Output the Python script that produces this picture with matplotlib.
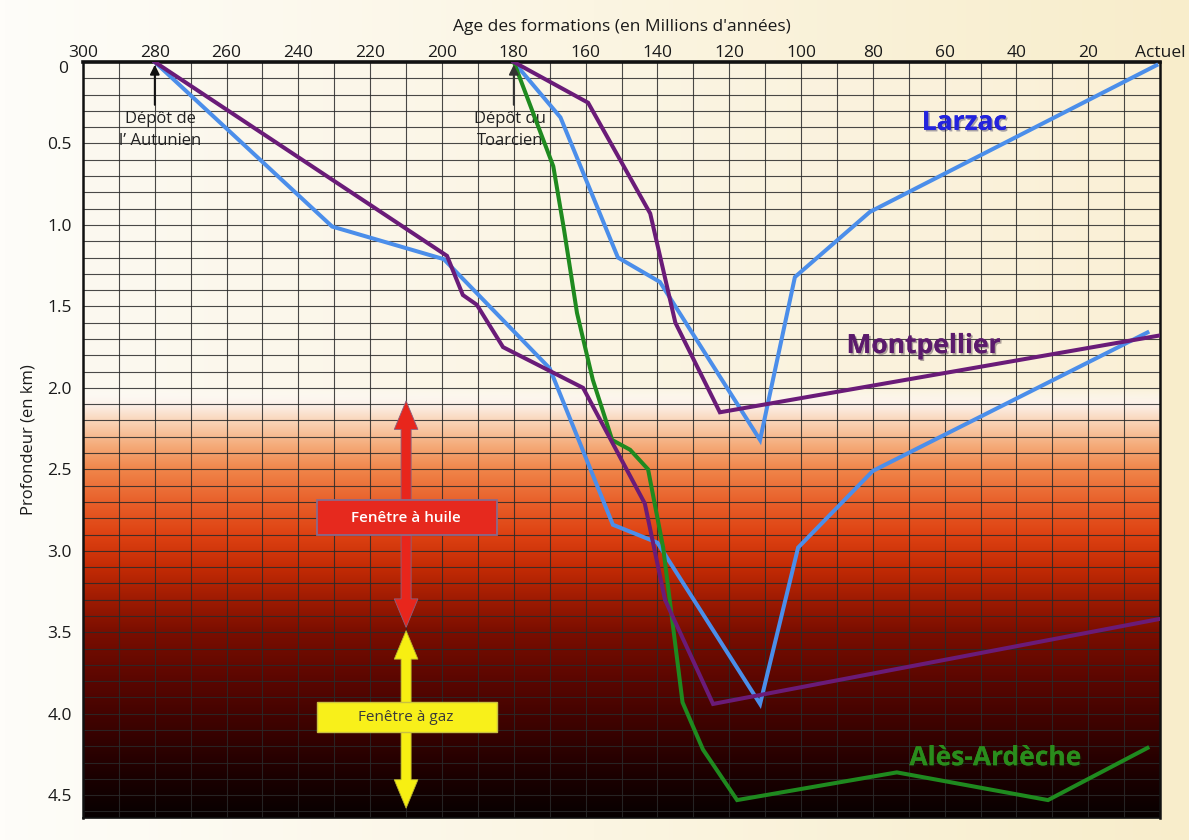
import numpy as np
import matplotlib
matplotlib.use("Agg")
import matplotlib.pyplot as plt
from matplotlib.colors import to_rgb
from matplotlib.patches import FancyArrow, Rectangle
from matplotlib.transforms import ScaledTranslation
import matplotlib.patheffects as pe

plt.rcParams['font.family'] = ['Open Sans', 'DejaVu Sans']

# ---- Burial curves: age (Ma) vs depth (km) ----
larzac_autunien_age = [280, 230.6, 199.5, 170, 152.4, 140, 111.4, 100.8, 80, 3.5]
larzac_autunien_depth = [0, 1.01, 1.21, 1.88, 2.84, 2.95, 3.94, 2.98, 2.51, 1.66]

larzac_toarcien_age = [180, 167, 151, 139.3, 111.4, 101.7, 80.8, 1]
larzac_toarcien_depth = [0, 0.34, 1.20, 1.35, 2.32, 1.32, 0.92, 0.02]

montpellier_autunien_age = [280, 198.6, 194.2, 190.3, 183, 160.7, 143.5, 137.9, 124.5, 0.5]
montpellier_autunien_depth = [0, 1.19, 1.43, 1.49, 1.75, 2.00, 2.71, 3.30, 3.94, 3.42]

montpellier_toarcien_age = [180, 159.3, 142, 135, 122.6, 0.5]
montpellier_toarcien_depth = [0, 0.25, 0.93, 1.60, 2.15, 1.68]

ales_age = [180, 169, 166, 162.4, 158, 152.6, 147.6, 142.6, 138.4, 133, 127.3, 117.8, 73.3, 31.2, 3.5]
ales_depth = [0, 0.64, 1.03, 1.54, 1.95, 2.32, 2.38, 2.50, 2.98, 3.93, 4.22, 4.53, 4.36, 4.53, 4.21]

# ---- Axis ticks ----
age_ticks = list(range(0, 301, 20))
age_tick_labels = ['Actuel' if a == 0 else str(a) for a in age_ticks]
depth_ticks = [0, 0.5, 1.0, 1.5, 2.0, 2.5, 3.0, 3.5, 4.0, 4.5]
depth_tick_labels = ['0', '0.5', '1.0', '1.5', '2.0', '2.5', '3.0', '3.5', '4.0', '4.5']

AGE_MAX, AGE_MIN = 300, 0
DEPTH_MAX = 4.64

# ---- Thermal maturity windows (depth ranges, km) ----
oil_window = (2.08, 3.47)
gas_window = (3.49, 4.58)
window_age = 210

BLUE = '#4B8EEA'
PURPLE = '#6A1B78'
GREEN = '#1F8A1F'

fig = plt.figure(figsize=(11.89, 8.40), dpi=100)

# paper-like background
bg = fig.add_axes([0, 0, 1, 1], zorder=-10)
t = np.linspace(0, 1, 256)
c0 = np.array(to_rgb('#FEFDF9'))
c1 = np.array(to_rgb('#F8EDCB'))
paper = c0[None, None, :] * (1 - t[None, :, None]) + c1[None, None, :] * t[None, :, None]
bg.imshow(paper, aspect='auto', extent=[0, 1, 0, 1])
bg.axis('off')

ax = fig.add_axes([83 / 1189, 1 - 818 / 840, (1160 - 83) / 1189, (818 - 62) / 840])

# temperature gradient with depth
depths = np.linspace(0, DEPTH_MAX, 700)
ages = np.linspace(AGE_MAX, AGE_MIN, 400)
stop_d = [2.0, 2.1, 2.2, 2.35, 2.5, 2.7, 2.9, 3.1, 3.3, 3.5, 3.8, 4.1, 4.4, 4.64]
stop_c = ['#FFFFFF', '#FCF1EA', '#FAD6BA', '#F5AC7B', '#F0854A', '#E8602A', '#DE4212',
          '#C42B05', '#9E1B02', '#7A0E00', '#5A0600', '#3A0200', '#1A0000', '#070000']
stop_rgb = np.array([to_rgb(c) for c in stop_c])
ramp = np.stack([np.interp(depths, stop_d, stop_rgb[:, k]) for k in range(3)], axis=1)
cream_l = np.array(to_rgb('#FCF9F0'))
cream_r = np.array(to_rgb('#FAF0D6'))
tt = (AGE_MAX - ages) / AGE_MAX
cream = cream_l[None, :] * (1 - tt[:, None]) + cream_r[None, :] * tt[:, None]
w = np.clip((2.1 - depths) / 0.1, 0, 1)
img = (w[:, None, None] * cream[None, :, :]
       + (1 - w[:, None, None]) * ramp[:, None, :])
ax.imshow(img, aspect='auto', extent=(AGE_MAX, AGE_MIN, DEPTH_MAX, 0),
          origin='upper', zorder=0, interpolation='bilinear')

ax.set_xlim(AGE_MAX, AGE_MIN)
ax.set_ylim(DEPTH_MAX, 0)

# grid
ax.set_xticks(age_ticks)
ax.set_xticklabels(age_tick_labels)
ax.set_xticks(np.arange(0, 301, 10), minor=True)
ax.set_yticks(depth_ticks)
ax.set_yticklabels(depth_tick_labels)
ax.set_yticks(np.arange(0, 4.65, 0.1), minor=True)
ax.grid(True, which='both', color='#2a2a2a', lw=0.8, alpha=0.85, zorder=1)

ax.xaxis.tick_top()
ax.xaxis.set_label_position('top')
ax.tick_params(which='both', length=0, labelsize=12.5, colors='#1a1a1a')
ax.tick_params(axis='x', pad=1)
ax.tick_params(axis='y', pad=8)
ax.set_xlabel("Age des formations (en Millions d'années)", fontsize=12.5, labelpad=10, color='#1a1a1a')
ax.set_ylabel('Profondeur (en km)', fontsize=12, labelpad=8, color='#1a1a1a')

# the top-left "0" sits a little lower and to the left of "300"
zero_lbl = ax.get_yticklabels()[0]
zero_lbl.set_transform(zero_lbl.get_transform() + ScaledTranslation(-4 / 100, -5 / 100, fig.dpi_scale_trans))

ax.spines['top'].set_linewidth(2.6)
ax.spines['left'].set_linewidth(1.8)
ax.spines['right'].set_linewidth(1.8)
ax.spines['bottom'].set_linewidth(1.2)
for s in ax.spines.values():
    s.set_color('#111111')

# curves
lw = 2.9
ax.plot(larzac_autunien_age, larzac_autunien_depth, color=BLUE, lw=lw, zorder=3, solid_joinstyle='miter')
ax.plot(montpellier_autunien_age, montpellier_autunien_depth, color=PURPLE, lw=lw, zorder=3.2, solid_joinstyle='miter')
ax.plot(ales_age, ales_depth, color=GREEN, lw=lw, zorder=3.1, solid_joinstyle='miter')
ax.plot(larzac_toarcien_age, larzac_toarcien_depth, color=BLUE, lw=lw, zorder=3, solid_joinstyle='miter')
ax.plot(montpellier_toarcien_age, montpellier_toarcien_depth, color=PURPLE, lw=lw, zorder=3.2, solid_joinstyle='miter')

# series labels
shadow = [pe.withSimplePatchShadow(offset=(1.2, -1.2), alpha=0.35), pe.Normal()]
ax.text(54.5, 0.37, 'Larzac', color='#2323DD', fontsize=19, fontweight='bold',
        ha='center', va='center', zorder=5, path_effects=shadow)
ax.text(66, 1.74, 'Montpellier', color='#5B1A6C', fontsize=19, fontweight='bold',
        ha='center', va='center', zorder=5, path_effects=shadow)
ax.text(46, 4.27, 'Alès-Ardèche', color='#2A8C1C', fontsize=19, fontweight='bold',
        ha='center', va='center', zorder=5, path_effects=shadow)

# deposit markers
ax.annotate('', xy=(280, 0.0), xytext=(280, 0.28),
            arrowprops=dict(arrowstyle='-|>', color='#111111', lw=1.4, mutation_scale=14), zorder=6)
ax.text(278.5, 0.42, 'Dépôt de\nl’ Autunien', ha='center', va='center', fontsize=12,
        color='#222222', linespacing=1.5, zorder=6)
ax.annotate('', xy=(180, 0.0), xytext=(180, 0.28),
            arrowprops=dict(arrowstyle='-|>', color='#333333', lw=1.4, mutation_scale=14), zorder=6)
ax.text(181, 0.42, 'Dépôt du\nToarcien', ha='center', va='center', fontsize=12,
        color='#222222', linespacing=1.5, zorder=2.5)

# maturity windows: double-headed arrows with labelled boxes
shaft_w = 2.8
head_w = 6.6
head_l = 0.175


def double_arrow(lo, hi, color, edge):
    mid = (lo + hi) / 2
    for end in (lo, hi):
        ax.add_patch(FancyArrow(window_age, mid, 0, end - mid, width=shaft_w,
                                head_width=head_w, head_length=head_l,
                                length_includes_head=True, fc=color, ec=edge,
                                lw=0.6, zorder=6))
    ax.add_patch(Rectangle((window_age - shaft_w / 2 + 0.3, mid - 0.1), shaft_w - 0.6, 0.2,
                           fc=color, ec='none', zorder=6.1))


double_arrow(*oil_window, '#E8261C', '#8A6080')
double_arrow(*gas_window, '#F7EF12', '#B8B030')

box_left, box_right = 184.7, 234.8
ax.add_patch(Rectangle((box_left, 2.69), box_right - box_left, 0.215,
                       fc='#E6291E', ec='#8A6A8A', lw=1.3, zorder=7))
ax.text(window_age, 2.80, 'Fenêtre à huile', ha='center', va='center', color='white',
        fontsize=11, fontweight='semibold', zorder=8)
ax.add_patch(Rectangle((box_left, 3.93), box_right - box_left, 0.185,
                       fc='#F8F01A', ec='#C8C040', lw=1.0, zorder=7))
ax.text(window_age, 4.025, 'Fenêtre à gaz', ha='center', va='center', color='#3a3a3a',
        fontsize=11, zorder=8)

fig.savefig('out.png', dpi=100)
